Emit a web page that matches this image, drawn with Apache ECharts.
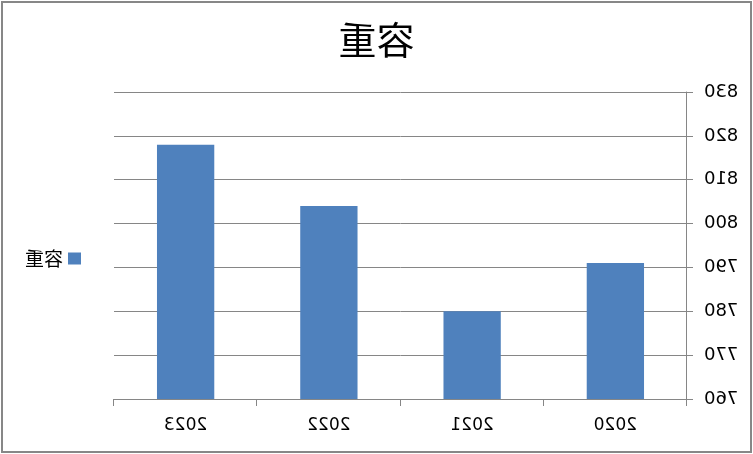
<!DOCTYPE html>
<html>
<head>
<meta charset="utf-8">
<script src="https://cdn.jsdelivr.net/npm/echarts@6/dist/echarts.min.js"></script>
<style>
  body { margin: 0; background: #fff; }
  #main {
    position: absolute; left: 1px; top: 1px;
    width: 751px; height: 452px;
    box-sizing: border-box;
    border: 2px solid #878787;
    /* the reference picture is a mirror image */
    transform: scaleX(-1);
  }
</style>
</head>
<body>
<div id="main"></div>
<script>
var years = ['2020', '2021', '2022', '2023'];
var values = [791, 780, 804, 818];
var seriesName = '容重';

var myChart = echarts.init(document.getElementById('main'));
myChart.setOption({
  animation: false,
  title: {
    text: seriesName,
    left: 'center',
    top: 13,
    textStyle: { fontFamily: 'Noto Sans CJK SC', fontSize: 38, fontWeight: 'normal', color: '#000' }
  },
  legend: {
    orient: 'vertical',
    left: 669,
    top: 246,
    padding: 0,
    itemWidth: 13,
    itemHeight: 12,
    icon: 'rect',
    textStyle: { fontFamily: 'Noto Sans CJK SC', fontSize: 19, color: '#000' },
    data: [seriesName]
  },
  grid: { left: 63, right: 111, top: 89, bottom: 52, containLabel: false },
  xAxis: {
    type: 'category',
    data: years,
    axisLine: { lineStyle: { color: '#868686', width: 1 } },
    axisTick: { show: true, length: 7, lineStyle: { color: '#868686' } },
    axisLabel: { margin: 18, fontFamily: 'DejaVu Sans', fontSize: 17, color: '#000' }
  },
  yAxis: {
    type: 'value',
    min: 760,
    max: 830,
    interval: 10,
    axisLine: { show: true, lineStyle: { color: '#868686', width: 1 } },
    axisTick: { show: true, length: 6, lineStyle: { color: '#868686' } },
    axisLabel: { margin: 17, fontFamily: 'DejaVu Sans', fontSize: 18, color: '#000' },
    splitLine: { lineStyle: { color: '#868686', width: 1 } }
  },
  series: [{
    name: seriesName,
    type: 'bar',
    data: values,
    barWidth: '40%',
    itemStyle: { color: '#4F81BD' }
  }]
});
</script>
</body>
</html>
